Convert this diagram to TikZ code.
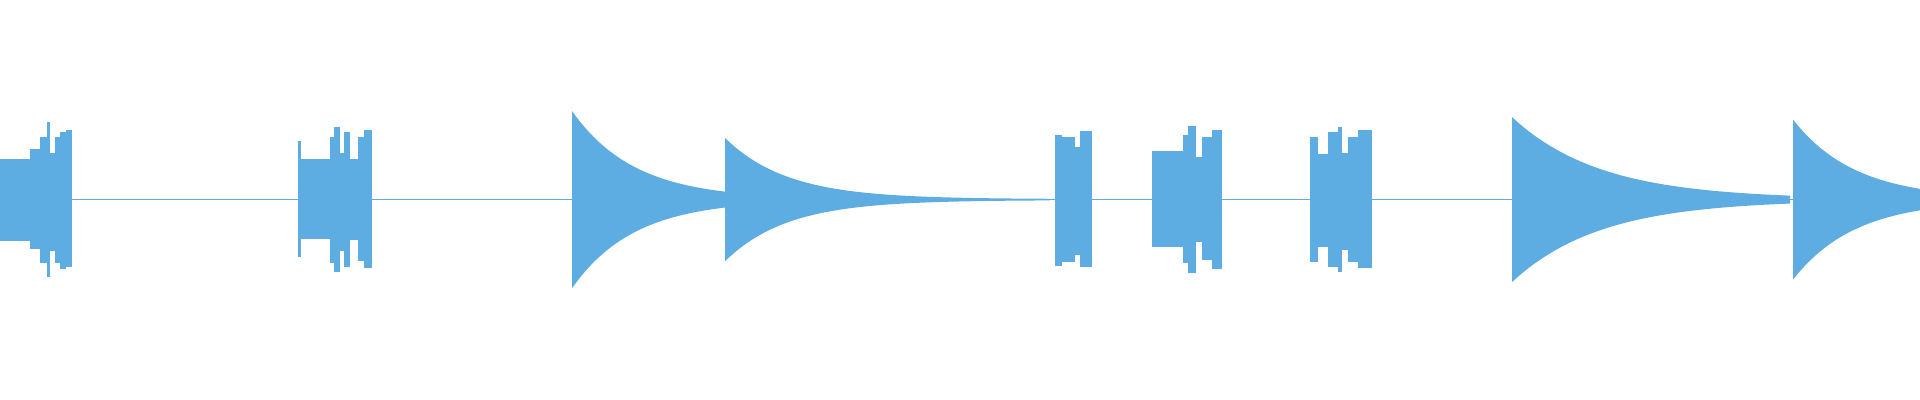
\documentclass[tikz,border=0pt]{standalone}
\definecolor{wave}{HTML}{5DADE2}
\begin{document}
\begin{tikzpicture}[x=0.01cm,y=-0.012245cm,wv/.style={fill=wave,draw=none}]
\useasboundingbox (0,0) rectangle (1920,326.67);
\draw[wave,line width=0.25pt] (0,163) -- (1920,163);
\foreach \a/\b/\t/\u in {0/30/130/197, 30/40/122/203, 40/47/112/215, 47/50/100/226, 50/55/125/205, 55/60/112/215, 60/66/108/220, 66/72/106/218,
 298/301/115/210, 301/330/130/195, 330/334/112/215, 334/340/104/222, 340/344/125/205, 344/350/108/218, 350/358/130/196, 358/364/112/213, 364/372/106/219,
 1055/1062/110/217, 1062/1075/112/214, 1075/1080/120/208, 1080/1092/107/218,
 1152/1183/123/202, 1183/1188/110/215, 1188/1196/103/223, 1196/1202/128/198, 1202/1212/112/212, 1212/1222/106/220,
 1310/1318/112/214, 1318/1328/126/202, 1328/1338/108/218, 1338/1342/104/222, 1342/1348/125/204, 1348/1358/112/214, 1358/1372/106/219}
  \fill[wv] (\a,\t) rectangle (\b,\u);
\foreach \s/\e/\amp/\tau in {572/725/72/62, 725/1050/50/62, 1512/1790/67/88, 1793/1920/65/62}
  \fill[wv] plot[domain=\s:\e,samples=80] (\x,{163-\amp*exp(-(\x-\s)/\tau)-0.4})
    -- plot[domain=\e:\s,samples=80] (\x,{163+\amp*exp(-(\x-\s)/\tau)+0.4}) -- cycle;
\end{tikzpicture}
\end{document}
